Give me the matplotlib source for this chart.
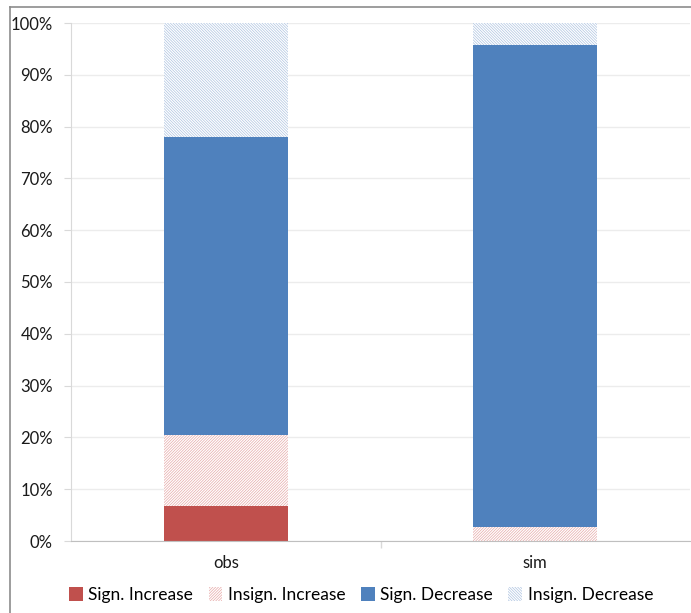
import matplotlib
matplotlib.use('Agg')
import matplotlib.pyplot as plt
from matplotlib.lines import Line2D
from matplotlib.ticker import PercentFormatter

plt.rcParams['font.family'] = ['Lato', 'DejaVu Sans']
plt.rcParams['hatch.linewidth'] = 0.5

categories = ['obs', 'sim']
sign_increase = [6.8, 0.0]
insign_increase = [13.7, 2.7]
sign_decrease = [57.5, 93.1]
insign_decrease = [22.0, 4.2]

red = '#c0504d'
blue = '#4f81bd'

fig = plt.figure(figsize=(6.91, 6.13), dpi=100)
ax = fig.add_axes([71 / 691, 1 - 541 / 613, 619 / 691, 518 / 613])

x = range(len(categories))
w = 0.4
bottom = [0.0] * len(categories)

series = [
    ('Sign. Increase', sign_increase, dict(color=red)),
    ('Insign. Increase', insign_increase, dict(facecolor='white', edgecolor='#e6a9a8', hatch='/' * 12)),
    ('Sign. Decrease', sign_decrease, dict(color=blue)),
    ('Insign. Decrease', insign_decrease, dict(facecolor='white', edgecolor='#aec3e0', hatch='\\' * 12)),
]
handles = []
for name, vals, style in series:
    bars = ax.bar(x, vals, w, bottom=bottom, linewidth=0, label=name, **style)
    handles.append(bars)
    bottom = [b + v for b, v in zip(bottom, vals)]

ax.set_xlim(-0.5, 1.5)
ax.set_ylim(0, 100)
ax.set_yticks(range(0, 101, 10))
ax.yaxis.set_major_formatter(PercentFormatter(decimals=0))
ax.set_xticks(list(x))
ax.set_xticklabels(categories)
ax.set_xticks([0.5], minor=True)
ax.tick_params(axis='x', which='major', length=0, pad=10, labelsize=12, colors='#1a1a1a')
ax.tick_params(axis='x', which='minor', length=5, color='#d9d9d9', width=1)
ax.tick_params(axis='y', length=5, color='#d9d9d9', labelsize=12, colors='#1a1a1a', pad=8)
ax.grid(axis='y', color='#ececec', linewidth=1)
ax.set_axisbelow(True)
for side in ['top', 'right']:
    ax.spines[side].set_visible(False)
ax.spines['left'].set_color('#d9d9d9')
ax.spines['bottom'].set_color('#bfbfbf')

fig.legend(handles=handles, loc='center', bbox_to_anchor=(361 / 691, 1 - 595 / 613),
           ncol=4, frameon=False, fontsize=12.5, handlelength=0.8, handleheight=0.8,
           handletextpad=0.3, columnspacing=0.9)

# outer chart frame
fig.add_artist(Line2D([10 / 691, 10 / 691], [0, 1 - 7 / 613], transform=fig.transFigure,
                      color='#8c8c8c', linewidth=1.2))
fig.add_artist(Line2D([10 / 691, 1], [1 - 7 / 613, 1 - 7 / 613], transform=fig.transFigure,
                      color='#8c8c8c', linewidth=1.2))

fig.savefig('out.png', dpi=100)
